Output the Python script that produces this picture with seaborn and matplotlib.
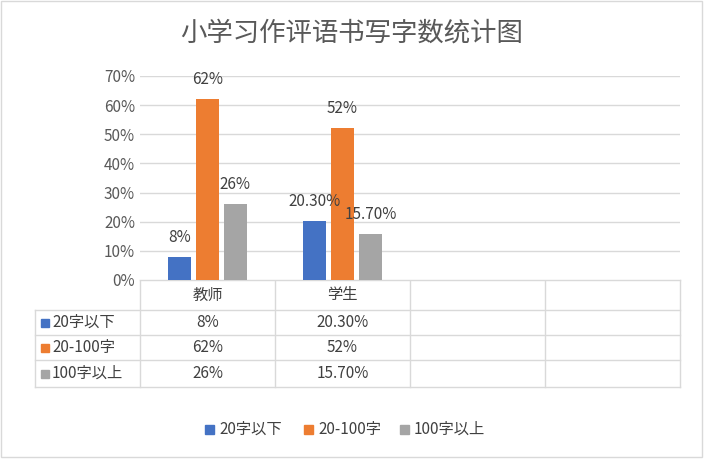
import matplotlib
matplotlib.use("Agg")
import matplotlib.pyplot as plt
from matplotlib import font_manager as fm
import seaborn as sns
import pandas as pd
from matplotlib.patches import Rectangle

cjk = None
for f in fm.fontManager.ttflist:
    if "CJK" in f.name and ("SC" in f.name or cjk is None):
        cjk = f.name
plt.rcParams["font.family"] = [cjk or "Noto Sans CJK SC", "DejaVu Sans"]

categories = ["教师", "学生"]
series = ["20字以下", "20-100字", "100字以上"]
values = {"20字以下": [0.08, 0.203], "20-100字": [0.62, 0.52], "100字以上": [0.26, 0.157]}
labels = {"20字以下": ["8%", "20.30%"], "20-100字": ["62%", "52%"], "100字以上": ["26%", "15.70%"]}
yticks = [0, 0.1, 0.2, 0.3, 0.4, 0.5, 0.6, 0.7]
colors = ["#4472C4", "#ED7D31", "#A5A5A5"]
order = categories + ["  ", "   "]

rows = []
for s in series:
    for c, v in zip(categories, values[s]):
        rows.append({"cat": c, "series": s, "v": v})
df = pd.DataFrame(rows)

W, H = 704, 459
fig = plt.figure(figsize=(W/100, H/100), dpi=100)
ax = fig.add_axes([140/W, (H-280)/H, 540/W, 204/H])
sns.barplot(data=df, x="cat", y="v", hue="series", order=order, hue_order=series,
            palette=colors, saturation=1, width=0.62, gap=0.15, ax=ax, legend=False)
ax.set_ylim(0, 0.7)
ax.set_yticks(yticks)
ax.set_yticklabels([f"{int(round(t*100))}%" for t in yticks], fontsize=11, color="#595959")
ax.yaxis.grid(True, color="#D9D9D9", lw=1)
ax.set_axisbelow(True)
for sp in ax.spines.values():
    sp.set_visible(False)
ax.tick_params(length=0)
ax.set_xticklabels([])
ax.set_xlabel(""); ax.set_ylabel("")
for cont, s in zip(ax.containers, series):
    ax.bar_label(cont, labels=labels[s] + [""] * (len(cont) - len(labels[s])),
                 padding=8, fontsize=11, color="#404040")

fig.suptitle("小学习作评语书写字数统计图", y=(H-33)/H, fontsize=19, color="#595959", va="center")

ov = fig.add_axes([0, 0, 1, 1], zorder=-1)
ov.set_xlim(0, W); ov.set_ylim(H, 0); ov.axis("off")
ov.add_patch(Rectangle((1, 1), W-3, H-3, fill=False, ec="#D9D9D9", lw=1))
lc = "#D9D9D9"
xs = [140, 275, 410, 545, 680]
ov.plot([140, 680], [280, 280], color=lc, lw=1)
for y in [310, 335, 360, 387]:
    ov.plot([35, 680], [y, y], color=lc, lw=1)
ov.plot([35, 35], [310, 387], color=lc, lw=1)
for x in xs:
    ov.plot([x, x], [280, 387], color=lc, lw=1)
for i, c in enumerate(categories):
    ov.text((xs[i]+xs[i+1])/2, 295, c, ha="center", va="center", fontsize=11, color="#404040")
rowy = [322.5, 347.5, 373.5]
for s, col, y in zip(series, colors, rowy):
    ov.add_patch(Rectangle((41, y-4), 8, 8, color=col))
    ov.text(52, y, s, ha="left", va="center", fontsize=11, color="#404040")
    for i, lab in enumerate(labels[s]):
        ov.text((xs[i]+xs[i+1])/2, y, lab, ha="center", va="center", fontsize=11, color="#404040")

lx = [205, 304, 400]
for s, col, x in zip(series, colors, lx):
    ov.add_patch(Rectangle((x, 425), 9, 9, color=col))
    ov.text(x+14, 429.5, s, ha="left", va="center", fontsize=11, color="#404040")

fig.savefig("out.png", dpi=100)
